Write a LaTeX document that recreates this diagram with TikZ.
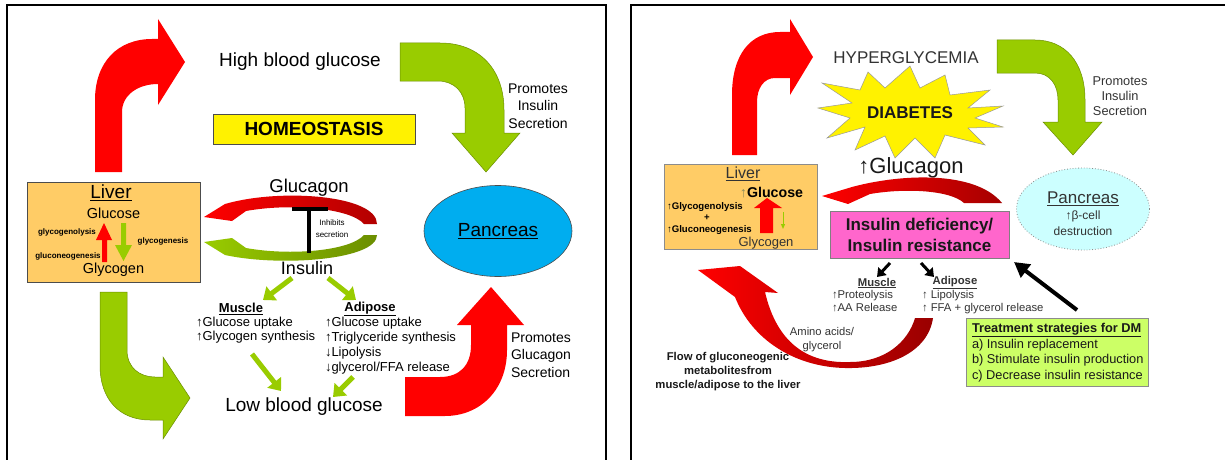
\documentclass[tikz,border=0pt]{standalone}
\usepackage{fontspec}
\setmainfont{Liberation Sans}
\usetikzlibrary{shapes.geometric,arrows.meta}
\definecolor{lred}{HTML}{FF0000}
\definecolor{dred}{HTML}{B00000}
\definecolor{lgreen}{HTML}{99CC00}
\definecolor{dgreen}{HTML}{6B8E00}
\definecolor{liverfill}{HTML}{FFCC66}
\definecolor{pinkfill}{HTML}{FF66CC}
\definecolor{treatfill}{HTML}{CCFF66}
\definecolor{panclight}{HTML}{CCFFFF}
\definecolor{txtgray}{HTML}{333333}
\definecolor{olivegray}{HTML}{8C8C5A}
\newcommand\fsz[2]{\fontsize{#1}{#2}\selectfont}
\begin{document}
\begin{tikzpicture}[x=1pt,y=-1pt,
  every node/.style={inner sep=0pt,outer sep=0pt},
  garrow/.style={draw=lgreen,line width=5pt,-{Triangle[length=11pt,width=17pt]}},
  karrow/.style={draw=black,line width=3pt,-{Triangle[length=8pt,width=11pt]}},
  gshape/.style={fill=lgreen,draw=dgreen,line width=0.5pt},
  rshape/.style={fill=lred},
  boxline/.style={draw=black!70,line width=0.6pt}]
\useasboundingbox (0,0) rectangle (1225,460);
\fill[white] (0,0) rectangle (1225,460);
% panels
\draw[line width=2pt] (7,5.5) rectangle (606,480);
\draw[line width=2pt] (631,5.5) rectangle (1240,480);

%================ LEFT PANEL =================
% red bent arrow (liver -> high blood glucose)
\fill[rshape] (95,172) -- (95,100) .. controls (95,62) and (118,39) .. (152,39) -- (158,39) -- (158,19) -- (185,62) -- (158,105) -- (158,84) .. controls (138,84) and (122,95) .. (122,112) -- (122,172) -- cycle;
% green bent arrow (high blood glucose -> pancreas)
\draw[gshape] (400,43) -- (440,43) .. controls (480,43) and (504,70) .. (504,110) -- (504,133) -- (520,133) -- (486,172) -- (452,133) -- (465,133) -- (465,108) .. controls (465,92) and (454,81) .. (438,81) -- (400,81) -- cycle;
% green bent arrow (liver -> low blood glucose)
\draw[gshape] (100,292) -- (127,292) -- (127,350) .. controls (127,368) and (140,377) .. (155,377) -- (163,377) -- (163,357) -- (190,398) -- (163,439) -- (163,420) -- (150,420) .. controls (120,420) and (100,400) .. (100,365) -- cycle;
% red bent arrow (low blood glucose -> pancreas)
\fill[rshape] (405,377) -- (440,377) .. controls (460,377) and (471,365) .. (471,345) -- (471,325) -- (457,325) -- (491,287) -- (524,325) -- (507,325) -- (507,350) .. controls (507,390) and (480,416) .. (445,416) -- (405,416) -- cycle;

\node[font=\fsz{19}{22}] (high) at (300,62) {High blood glucose};
\node[font=\fsz{19}{22}] (low) at (304,407) {Low blood glucose};
\node[align=center,font=\fsz{14}{17.5}] (promins) at (538,106) {Promotes\\Insulin\\Secretion};
\node[align=left,anchor=west,font=\fsz{14}{17.5}] (promglu) at (511,355) {Promotes\\Glucagon\\Secretion};
\node[draw=black!70,fill=yellow,minimum width=202pt,minimum height=30pt,font=\bfseries\fsz{19}{22}] (homeo) at (314,129) {HOMEOSTASIS};

% liver box
\node[boxline,fill=liverfill,minimum width=173pt,minimum height=100pt] (liverL) at (113.5,232) {};
\node[font=\fsz{19}{22}] (liverLt) at (111,193) {\underline{Liver}};
\node[font=\fsz{14.5}{17}] (glucL) at (113.5,213) {Glucose};
\node[font=\fsz{14.5}{17}] (glycL) at (113.5,270) {Glycogen};
\node[font=\bfseries\fsz{8}{9}] at (67,232) {glycogenolysis};
\node[font=\bfseries\fsz{8}{9}] at (68,256) {gluconeogenesis};
\node[font=\bfseries\fsz{8}{9}] at (163,241) {glycogenesis};
\fill[lred] (102,262) -- (102,240) -- (96,240) -- (104,223) -- (112,240) -- (107,240) -- (107,262) -- cycle;
\fill[lgreen] (121,223) -- (121,245) -- (115,245) -- (123.5,261) -- (132,245) -- (126,245) -- (126,223) -- cycle;

% glucagon / insulin crescents
\shade[left color=lred,right color=lred!70!black] (204,217) -- (225,204) .. controls (280,188) and (377,195) .. (377,224) -- (364,224) .. controls (350,208) and (290,203) .. (246,211) -- (232,221) -- cycle;
\shade[left color=lgreen,right color=dgreen] (204,242) -- (225,255) .. controls (280,267) and (377,260) .. (377,235) -- (364,235) .. controls (350,251) and (290,256) .. (246,248) -- (232,238) -- cycle;
\node[font=\fsz{18.5}{22}] (glucagonL) at (309,188) {Glucagon};
\node[font=\fsz{18}{22}] (insulinL) at (307,268) {Insulin};
\draw[line width=4pt] (292,209) -- (328,209);
\draw[line width=3.5pt] (309,209) -- (309,253);
\node[align=center,font=\fsz{8}{12}] (inhib) at (332,229) {Inhibits\\secretion};

% pancreas
\node[ellipse,draw=black!70,line width=0.6pt,fill=cyan,minimum width=148pt,minimum height=91pt,font=\fsz{19}{22}] (pancL) at (498,231) {\underline{Pancreas}};

% muscle / adipose
\coordinate (mA1) at (292,278); \coordinate (mA2) at (263,300);
\coordinate (aA1) at (328,278); \coordinate (aA2) at (356,300);
\coordinate (mB1) at (252,354); \coordinate (mB2) at (281,391);
\coordinate (aB1) at (353,377); \coordinate (aB2) at (333,397);
\draw[garrow] (mA1) -- (mA2);
\draw[garrow] (aA1) -- (aA2);
\draw[garrow] (mB1) -- (mB2);
\draw[garrow] (aB1) -- (aB2);
\node[font=\bfseries\fsz{13}{15}] (muscL) at (241,309) {\underline{Muscle}};
\node[align=left,anchor=west,font=\fsz{13}{14}] (muscLt) at (196,330) {↑Glucose uptake\\↑Glycogen synthesis};
\node[font=\bfseries\fsz{13}{15}] (adipL) at (370,309) {\underline{Adipose}};
\node[align=left,anchor=west,font=\fsz{13}{15}] (adipLt) at (325,345.5) {↑Glucose uptake\\↑Triglyceride synthesis\\↓Lipolysis\\↓glycerol/FFA release};

%================ RIGHT PANEL =================
% red bent arrow
\fill[rshape] (732,155) -- (732,95) .. controls (732,55) and (750,32) .. (780,32) -- (790,32) -- (790,19) -- (813,57) -- (790,95) -- (790,78) -- (775,78) .. controls (764,78) and (757,88) .. (757,102) -- (757,155) -- cycle;
% green bent arrow
\draw[gshape] (997,40) -- (1035,40) .. controls (1065,40) and (1085,62) .. (1085,100) -- (1085,122) -- (1102,122) -- (1073,155) -- (1043,122) -- (1058,122) -- (1058,100) .. controls (1058,85) and (1050,73) .. (1035,73) -- (997,73) -- cycle;

\node[text=txtgray,font=\fsz{17}{20}] (hyper) at (906,58) {HYPERGLYCEMIA};
\node[text=txtgray,align=center,font=\fsz{12.8}{15}] (promins2) at (1120,96) {Promotes\\Insulin\\Secretion};

% star
\filldraw[fill=yellow,draw=black!40,line width=0.5pt] (818,108) -- (852,103) -- (822,83) -- (860,90) -- (868,72) -- (885,88) -- (910,66) -- (920,88) -- (945,75) -- (950,95) -- (990,90) -- (968,108) -- (1003,106) -- (975,118) -- (1003,127) -- (968,128) -- (985,145) -- (945,135) -- (935,158) -- (915,138) -- (895,158) -- (885,136) -- (855,150) -- (865,127) -- (827,138) -- (850,118) -- cycle;
\node[font=\bfseries\fsz{17}{20},text=black!90] (diab) at (910,113) {DIABETES};

\node[font=\fsz{22}{26},text=black!90] (glucR) at (911,168) {↑Glucagon};
\shade[left color=lred,right color=lred!65!black] (822,196) -- (852,187) .. controls (900,174) and (975,170) .. (1002,203) -- (964,203) .. controls (950,190) and (905,188) .. (870,194) -- (848,204) -- cycle;

% liver box right
\node[draw=black!45,line width=0.6pt,fill=liverfill,minimum width=153pt,minimum height=85pt] (liverR) at (740.5,206.5) {};
\node[text=txtgray,font=\fsz{16}{19}] (liverRt) at (743,174) {\underline{Liver}};
\node[font=\fsz{14.2}{17}] (glucRt) at (771.5,193) {\textcolor{olivegray}{↑}\textbf{Glucose}};
\node[align=left,anchor=west,font=\bfseries\fsz{9.6}{11.5}] (glyR) at (667,218.5) {↑Glycogenolysis\\\hspace*{37pt}+\\↑Gluconeogenesis};
\node[text=txtgray,font=\fsz{13}{15}] (glycR) at (766,243) {Glycogen};
\fill[lred] (760,233) -- (760,208) -- (754,208) -- (767,198) -- (782,208) -- (773,208) -- (773,233) -- cycle;
\coordinate (gs1) at (783,212); \coordinate (gs2) at (783,229);
\draw[lgreen,line width=1pt,-{Triangle[length=5pt,width=4pt]}] (gs1) -- (gs2);

% pink box
\node[draw=black!50,line width=0.6pt,fill=pinkfill,minimum width=179pt,minimum height=47pt,align=center,font=\bfseries\fsz{17}{21},text=black!90] (insdef) at (919.5,234.5) {Insulin deficiency/\\Insulin resistance};

% pancreas right
\node[ellipse,draw=black!45,dotted,line width=0.8pt,fill=panclight,minimum width=133pt,minimum height=82pt] (pancR) at (1083,209) {};
\node[text=txtgray,align=center,font=\fsz{12}{16}] (pancRt) at (1083,214) {{\fsz{17}{19}\underline{Pancreas}}\\↑β-cell\\destruction};

% arrows from pink box
\coordinate (k1a) at (890,263); \coordinate (k1b) at (877,277);
\coordinate (k2a) at (921,263); \coordinate (k2b) at (934,277);
\draw[karrow] (k1a) -- (k1b);
\draw[karrow] (k2a) -- (k2b);
\node[text=txtgray,font=\bfseries\fsz{11.3}{13}] (muscR) at (877,283) {\underline{Muscle}};
\node[text=txtgray,align=left,anchor=west,font=\fsz{11.3}{13}] (muscRt) at (832,301.5) {↑Proteolysis\\↑AA Release};
\node[text=txtgray,font=\bfseries\fsz{11.3}{13}] (adipR) at (955,283) {\underline{Adipose}};
\node[text=txtgray,align=left,anchor=west,font=\fsz{11.3}{13}] (adipRt) at (922,302.5) {↑ Lipolysis\\↑ FFA + glycerol release};

% big red crescent
\shade[left color=lred,right color=lred!60!black] (698,270) -- (740,266) -- (778,293) -- (765,292) .. controls (775,335) and (800,364) .. (850,362) .. controls (885,362) and (908,342) .. (915,318) -- (933,318) .. controls (928,352) and (890,369) .. (845,368) .. controls (795,367) and (752,340) .. (735,297) -- cycle;
\node[text=txtgray,align=center,font=\fsz{11.2}{14}] (amino) at (822,340) {Amino acids/\\glycerol};
\node[text=black!90,align=center,font=\bfseries\fsz{11.3}{14}] (flow) at (728,372) {Flow of gluconeogenic\\metabolitesfrom\\muscle/adipose to the liver};

% treatment
\node[draw=black!45,line width=0.6pt,fill=treatfill,minimum width=182pt,minimum height=68pt] (treat) at (1057,352) {};
\node[align=left,anchor=west,font=\fsz{12.8}{15.6},text=black!90] (treatt) at (972,352.5) {\underline{\textbf{Treatment strategies for DM}}\\a) Insulin replacement\\b) Stimulate insulin production\\c) Decrease insulin resistance};
\coordinate (tA) at (1077,310); \coordinate (tB) at (1014,262);
\draw[draw=black,line width=4pt,-{Triangle[length=15pt,width=16pt]}] (tA) -- (tB);
\end{tikzpicture}
\end{document}
